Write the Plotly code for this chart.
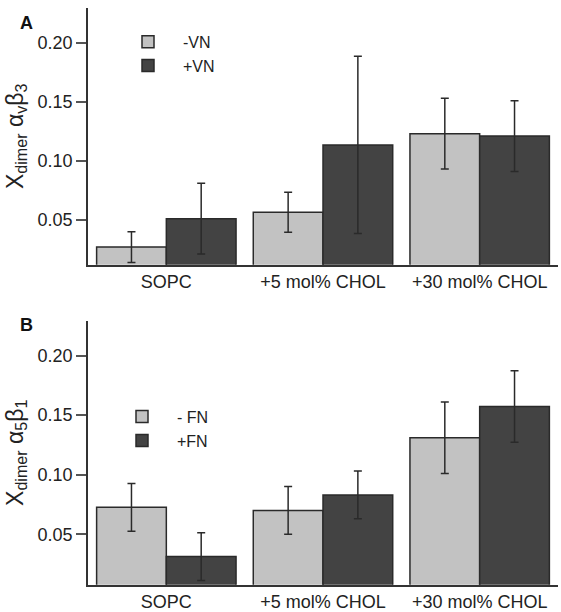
import plotly.graph_objects as go

categories = ["SOPC", "+5 mol% CHOL", "+30 mol% CHOL"]

# Panel A: alpha_v beta_3
a_minus_vn = [0.027, 0.0565, 0.123]
a_minus_vn_err = [0.013, 0.017, 0.030]
a_plus_vn = [0.051, 0.1135, 0.121]
a_plus_vn_err = [0.030, 0.075, 0.030]

# Panel B: alpha_5 beta_1
b_minus_fn = [0.0726, 0.0700, 0.1311]
b_minus_fn_err = [0.020, 0.020, 0.030]
b_plus_fn = [0.0313, 0.0830, 0.1573]
b_plus_fn_err = [0.020, 0.020, 0.030]

y_ticks = [0.05, 0.10, 0.15, 0.20]
y_ticktext = ["0.05", "0.10", "0.15", "0.20"]

LIGHT = "#c2c2c2"
DARK = "#434343"
EDGE = "#2a2a2a"
FONT = "Liberation Sans, Arial, sans-serif"

def bar(name, y, err, color, xa, ya, legend):
    return go.Bar(
        name=name, x=categories, y=y, xaxis=xa, yaxis=ya, legend=legend,
        marker=dict(color=color, line=dict(color=EDGE, width=1.5)),
        error_y=dict(type="data", array=err, visible=True, color="#2a2a2a",
                     thickness=1.5, width=4),
    )

fig = go.Figure()
fig.add_trace(bar("-VN", a_minus_vn, a_minus_vn_err, LIGHT, "x", "y", "legend"))
fig.add_trace(bar("+VN", a_plus_vn, a_plus_vn_err, DARK, "x", "y", "legend"))
fig.add_trace(bar("- FN", b_minus_fn, b_minus_fn_err, LIGHT, "x2", "y2", "legend2"))
fig.add_trace(bar("+FN", b_plus_fn, b_plus_fn_err, DARK, "x2", "y2", "legend2"))

W, H = 561, 612
xdom = [88 / W, 558 / W]
ydomA = [1 - 265.5 / H, 1 - 8 / H]
ydomB = [1 - 586.7 / H, 1 - 321.7 / H]

xcommon = dict(showline=True, linecolor="#333333", linewidth=1.5, ticks="",
               showgrid=False, zeroline=False, range=[-0.5, 2.5],
               tickfont=dict(family=FONT, size=18, color="#222222"))
ycommon = dict(showline=True, linecolor="#333333", linewidth=1.5, ticks="outside",
               ticklen=10, tickwidth=1.5, tickcolor="#555555", showgrid=False,
               zeroline=False, tickvals=y_ticks, ticktext=y_ticktext,
               tickfont=dict(family=FONT, size=18, color="#222222"))

fig.update_layout(
    width=W, height=H,
    margin=dict(l=0, r=0, t=0, b=0),
    paper_bgcolor="white", plot_bgcolor="white",
    barmode="group", bargap=0.11, bargroupgap=0,
    font=dict(family=FONT, color="#222222"),
    xaxis=dict(domain=xdom, anchor="y", **xcommon),
    yaxis=dict(domain=ydomA, anchor="x", range=[0.0121, 0.2295],
               title=dict(text="X<sub>dimer</sub> α<sub>v</sub>β<sub>3</sub>",
                          font=dict(family=FONT, size=23), standoff=8),
               **ycommon),
    xaxis2=dict(domain=xdom, anchor="y2", **xcommon),
    yaxis2=dict(domain=ydomB, anchor="x2", range=[0.0076, 0.2293],
                title=dict(text="X<sub>dimer</sub> α<sub>5</sub>β<sub>1</sub>",
                           font=dict(family=FONT, size=23), standoff=8),
                **ycommon),
    legend=dict(x=113 / W, y=1 - 25 / H, xanchor="left", yanchor="top",
                bgcolor="rgba(0,0,0,0)", itemwidth=60, tracegroupgap=0,
                font=dict(family=FONT, size=16, color="#222222")),
    legend2=dict(x=107 / W, y=1 - 401 / H, xanchor="left", yanchor="top",
                 bgcolor="rgba(0,0,0,0)", itemwidth=60, tracegroupgap=0,
                 font=dict(family=FONT, size=16, color="#222222")),
    annotations=[
        dict(text="<b>A</b>", x=18 / W, y=1 - 11 / H, xref="paper", yref="paper",
             showarrow=False, font=dict(family=FONT, size=18, color="#111111")),
        dict(text="<b>B</b>", x=18 / W, y=1 - 326 / H, xref="paper", yref="paper",
             showarrow=False, font=dict(family=FONT, size=18, color="#111111")),
    ],
)

fig.write_html("out.html", config={"displayModeBar": False},
               post_script="document.body.style.margin='0';")
